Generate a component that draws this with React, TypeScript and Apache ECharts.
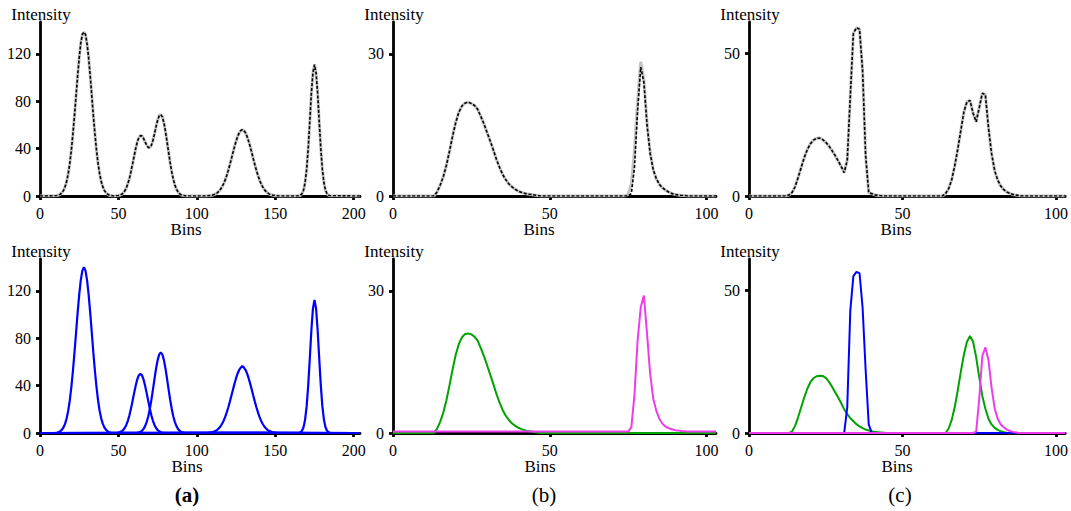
import React, { useEffect, useRef } from "react";
import * as echarts from "echarts";

// ---------- axes ----------
const X_MAX_A = 204;
const X_MAX_BC = 103;
const Y_MAX_A = 147;
const Y_MAX_B = 36.7;
const Y_MAX_C = 61;
const xTicksA = [0, 50, 100, 150, 200];
const xTicksBC = [0, 50, 100];
const yTicksA = [0, 40, 80, 120];
const yTicksB = [0, 30];
const yTicksC = [0, 50];
const panelLabels = ["(a)", "(b)", "(c)"];

// ---------- panel (a) ----------
// fitted / observed total, bins 10..185
const fitA_start = 10;
const fitA = [
  0.2, 0.4, 0.8, 1.6, 2.8, 4.8, 7.9, 12.4, 18.9, 27.7, 38.9, 52.6, 68.1, 84.9, 101.7, 116.9, 129.2, 136.5, 138.5, 136.5,
  128.5, 116.9, 101.7, 84.9, 68.1, 52.6, 38.9, 27.7, 18.9, 12.4, 7.9, 4.8, 2.8, 1.6, 0.8, 0.4, 0.2, 0, 0,
  0.2, 0.4, 0.8, 1.4, 2.5, 4.2, 6.8, 10.3, 14.9, 20.6, 27.0, 33.7, 40.0, 45.6, 49.3, 51.0, 50.7, 48.7, 45.8, 42.9,
  41.0, 40.9, 42.8, 47.0, 52.6, 58.7, 64.1, 67.8, 68.8, 66.8, 61.8, 54.5, 45.8, 36.7, 27.9, 20.3, 14.0, 9.2, 5.8, 3.4,
  1.9, 1.0, 0.5, 0.3,
  0, 0, 0, 0, 0, 0, 0, 0, 0, 0, 0, 0, 0, 0,
  0.2, 0.3, 0.5, 0.8, 1.2, 1.8, 2.7, 3.9, 5.5, 7.6, 10.2, 13.4, 17.2, 21.5, 26.3, 31.4, 36.6, 41.7, 46.3, 50.3,
  53.4, 55.3, 56, 55.3, 53.4, 50.3, 46.3, 41.7, 36.6, 31.4, 26.3, 21.5, 17.2, 13.4, 10.2, 7.6, 5.5, 3.9, 2.7, 1.8,
  1.2, 0.8, 0.5, 0.3, 0.2,
  0, 0, 0, 0, 0, 0, 0, 0, 0, 0, 0, 0, 0,
  0.2, 0.6, 1.9, 4.9, 11.3, 22.7, 40.4, 63.1, 86.8, 104, 111, 104, 86.8, 63.1, 40.4, 22.7, 11.3, 4.9, 1.9, 0.6, 0.2,
];
// components (blue)
const compA1_start = 10;
const compA1 = [
  0.2, 0.4, 0.8, 1.6, 2.8, 4.8, 7.9, 12.4, 18.9, 27.7, 38.9, 52.6, 68.1, 84.9, 101.7, 116.9, 129.2, 137.2, 140, 137.2,
  129.2, 116.9, 101.7, 84.9, 68.1, 52.6, 38.9, 27.7, 18.9, 12.4, 7.9, 4.8, 2.8, 1.6, 0.8, 0.4, 0.2,
];
const compA2_start = 49;
const compA2 = [
  0.2, 0.4, 0.8, 1.4, 2.5, 4.2, 6.8, 10.3, 14.9, 20.6, 27.0, 33.7, 40.0, 45.3, 48.8, 50, 48.8, 45.3, 40.0, 33.7,
  27.0, 20.6, 14.9, 10.3, 6.8, 4.2, 2.5, 1.4, 0.8, 0.4, 0.2,
];
const compA3_start = 62;
const compA3 = [
  0.3, 0.5, 1.0, 1.9, 3.4, 5.8, 9.2, 14.0, 20.3, 27.9, 36.7, 45.8, 54.5, 61.6, 66.4, 68, 66.4, 61.6, 54.5, 45.8,
  36.7, 27.9, 20.3, 14.0, 9.2, 5.8, 3.4, 1.9, 1.0, 0.5, 0.3,
];
const compA4_start = 107;
const compA4 = [
  0.2, 0.3, 0.5, 0.8, 1.2, 1.8, 2.7, 3.9, 5.5, 7.6, 10.2, 13.4, 17.2, 21.5, 26.3, 31.4, 36.6, 41.7, 46.3, 50.3,
  53.4, 55.3, 56.5, 55.3, 53.4, 50.3, 46.3, 41.7, 36.6, 31.4, 26.3, 21.5, 17.2, 13.4, 10.2, 7.6, 5.5, 3.9, 2.7, 1.8,
  1.2, 0.8, 0.5, 0.3, 0.2,
];
const compA5_start = 165;
const compA5 = [
  0.2, 0.6, 1.9, 4.9, 11.3, 22.7, 40.4, 63.1, 86.8, 105.1, 112.5, 105.1, 86.8, 63.1, 40.4, 22.7, 11.3, 4.9, 1.9, 0.6,
  0.2,
];

// ---------- panel (b) ----------
const fitB1_start = 13;
const fitB1 = [
  0, 0.8, 2.2, 4.0, 6.4, 9.4, 12.6, 15.5, 17.7, 19.0, 19.6, 19.8, 19.5, 19.1, 18.3, 16.8, 15.2, 13.4, 11.6, 9.7,
  7.7, 6.0, 4.5, 3.4, 2.5, 1.9, 1.4, 1.0, 0.75, 0.55, 0.4, 0.3, 0.2, 0.1, 0,
];
const fitB2_start = 75;
const fitB2 = [0, 0.5, 6, 18, 27.2, 24, 15, 9, 5.5, 3.6, 2.4, 1.7, 1.2, 0.8, 0.5, 0.3, 0.2, 0.1, 0.1, 0];
const obsB2_start = 74;
const obsB2 = [0, 0.4, 2.5, 9.5, 20, 28.3, 24.5, 15.5, 9.2, 5.5, 3.6, 2.4, 1.7, 1.2, 0.8, 0.5, 0.3, 0.2, 0.1, 0.1, 0];
const greenB_start = 13;
const greenB = [
  0, 0.8, 2.3, 4.2, 6.8, 10, 13.4, 16.5, 18.8, 20.2, 20.9, 21.0, 20.8, 20.3, 19.5, 17.9, 16.2, 14.3, 12.3, 10.3,
  8.2, 6.4, 4.8, 3.6, 2.7, 2.0, 1.5, 1.1, 0.8, 0.6, 0.4, 0.3, 0.2, 0.1, 0,
];
const magentaB_start = 75;
const magentaB = [0.3, 1.2, 8, 19.5, 26.5, 29, 21, 12.5, 7.2, 4.6, 2.9, 1.9, 1.3, 1.0, 0.8, 0.6, 0.5, 0.4, 0.35, 0.3];
const magentaB_base = 0.3;

// ---------- panel (c) ----------
const fitC1_start = 12;
const fitC1 = [
  0, 0.3, 1.2, 3.2, 6.5, 10, 13.5, 16.3, 18.3, 19.6, 20.2, 20.3, 19.8, 18.8, 17.6, 16.0, 14.3, 12.4, 10.4, 8.2,
  12.5, 35, 57, 59, 58.5, 44, 14, 1.2, 0.8, 0.4, 0.2, 0.1, 0,
];
const fitC2_start = 63;
const fitC2 = [
  0, 0.8, 2.5, 5.6, 10.5, 16.5, 23, 29.5, 33, 33.5, 29, 26, 31, 36, 35.5, 24, 15, 9, 5.6, 3.5,
  2.2, 1.4, 0.9, 0.5, 0.3, 0.1, 0,
];
const greenC1_start = 13;
const greenC1 = [
  0, 0.5, 2.5, 5.5, 9, 12.5, 15.5, 17.8, 19.2, 19.9, 20.1, 20.0, 19.3, 18.0, 16.3, 14.4, 12.5, 10.5, 8.3, 6.6,
  5.2, 4.1, 3.1, 2.3, 1.7, 1.2, 0.9, 0.6, 0.4, 0.3, 0.2, 0.1, 0,
];
const greenC2_start = 64;
const greenC2 = [0, 1.5, 4.5, 9, 15, 21.5, 27.5, 32, 34, 32, 26.5, 19.5, 13, 8.5, 5, 3, 1.8, 1.1, 0.6, 0.3, 0.1, 0];
const blueC_start = 31;
const blueC = [0, 9, 43, 55, 56.5, 56, 44, 22, 3, 0];
const magentaC_start = 73;
const magentaC = [0, 0.5, 12, 27, 30, 25.6, 16, 8.8, 5, 3, 2, 1.2, 0.7, 0.4, 0.2, 0];

// ---------- styles ----------
const FONT = "Liberation Serif";
const GRAY = "#c2c2c2";
const BLUE = "#0000ff";
const GREEN = "#00a300";
const MAGENTA = "#ec3cec";
const DASH = [3, 1.8];

type Seg = [number, number[]];
function curve(segs: Seg[], xMax: number, base = 0): number[][] {
  const pts: number[][] = [[0, base]];
  segs.forEach(([start, vals]) => vals.forEach((v, i) => pts.push([start + i, v])));
  pts.push([xMax, base]);
  return pts;
}

function axisCommon(max: number, ticks: number[]) {
  return {
    type: "value",
    min: 0,
    max,
    axisLine: { show: true, onZero: false, lineStyle: { color: "#000", width: 2.8 } },
    axisTick: { show: true, length: 4, customValues: ticks, lineStyle: { color: "#000", width: 2.8 } },
    axisLabel: { customValues: ticks, color: "#000", fontFamily: FONT, fontSize: 16, margin: 9 },
    splitLine: { show: false },
  };
}

function line(data: number[][], color: string, width: number, dash?: number[], z = 2) {
  return {
    type: "line",
    data,
    showSymbol: false,
    symbol: "none",
    z,
    lineStyle: { color, width, type: dash ? dash : "solid" },
  };
}

function txt(text: string, x: number, y: number, size: number, bold = false) {
  const style: any = { text, fill: "#000", fontFamily: FONT, fontSize: size, align: "center", verticalAlign: "middle" };
  if (bold) style.fontWeight = "bold";
  return { type: "text", x, y, style };
}

function buildPanels(): any[] {
  const fitAData = curve([[fitA_start, fitA]], X_MAX_A);
  const fitBData = curve([[fitB1_start, fitB1], [fitB2_start, fitB2]], X_MAX_BC);
  const obsBData = curve([[fitB1_start, fitB1], [obsB2_start, obsB2]], X_MAX_BC);
  const fitCData = curve([[fitC1_start, fitC1], [fitC2_start, fitC2]], X_MAX_BC);
  return [
    {
      grid: { left: 40, top: 22, width: 320, height: 174 },
      x: axisCommon(X_MAX_A, xTicksA),
      y: axisCommon(Y_MAX_A, yTicksA),
      series: [line(fitAData, GRAY, 3), line(fitAData, "#000", 1.6, DASH, 3)],
      texts: [txt("Intensity", 41, 14, 17), txt("Bins", 186, 229, 17)],
    },
    {
      grid: { left: 393, top: 22, width: 323, height: 174 },
      x: axisCommon(X_MAX_BC, xTicksBC),
      y: axisCommon(Y_MAX_B, yTicksB),
      series: [line(obsBData, GRAY, 3), line(fitBData, "#000", 1.6, DASH, 3)],
      texts: [txt("Intensity", 394, 14, 17), txt("Bins", 539, 229, 17)],
    },
    {
      grid: { left: 749, top: 22, width: 320, height: 174 },
      x: axisCommon(X_MAX_BC, xTicksBC),
      y: axisCommon(Y_MAX_C, yTicksC),
      series: [line(fitCData, GRAY, 3), line(fitCData, "#000", 1.6, DASH, 3)],
      texts: [txt("Intensity", 750, 14, 17), txt("Bins", 896, 229, 17)],
    },
    {
      grid: { left: 40, top: 259, width: 320, height: 174 },
      x: axisCommon(X_MAX_A, xTicksA),
      y: axisCommon(Y_MAX_A, yTicksA),
      series: [
        line(curve([[compA1_start, compA1]], X_MAX_A), BLUE, 2.2),
        line(curve([[compA2_start, compA2]], X_MAX_A), BLUE, 2.2),
        line(curve([[compA3_start, compA3]], X_MAX_A), BLUE, 2.2),
        line(curve([[compA4_start, compA4]], X_MAX_A), BLUE, 2.2),
        line(curve([[compA5_start, compA5]], X_MAX_A), BLUE, 2.2),
      ],
      texts: [txt("Intensity", 41, 251, 17), txt("Bins", 187, 466, 17), txt(panelLabels[0], 187, 495, 21, true)],
    },
    {
      grid: { left: 393, top: 259, width: 323, height: 174 },
      x: axisCommon(X_MAX_BC, xTicksBC),
      y: axisCommon(Y_MAX_B, yTicksB),
      series: [
        line(curve([[greenB_start, greenB]], X_MAX_BC), GREEN, 2),
        line(curve([[magentaB_start, magentaB]], X_MAX_BC, magentaB_base), MAGENTA, 2, undefined, 3),
      ],
      texts: [txt("Intensity", 394, 251, 17), txt("Bins", 540, 466, 17), txt(panelLabels[1], 544, 495, 21)],
    },
    {
      grid: { left: 749, top: 259, width: 320, height: 174 },
      x: axisCommon(X_MAX_BC, xTicksBC),
      y: axisCommon(Y_MAX_C, yTicksC),
      series: [
        line(curve([[greenC1_start, greenC1], [greenC2_start, greenC2]], X_MAX_BC), GREEN, 2),
        line(curve([[blueC_start, blueC]], X_MAX_BC), BLUE, 2, undefined, 3),
        line(curve([[magentaC_start, magentaC]], X_MAX_BC), MAGENTA, 2, undefined, 4),
      ],
      texts: [txt("Intensity", 750, 251, 17), txt("Bins", 897, 466, 17), txt(panelLabels[2], 900, 495, 21)],
    },
  ];
}

export default function App() {
  const wrap = useRef<HTMLDivElement>(null);
  useEffect(() => {
    document.body.style.margin = "0";
    const host = wrap.current;
    if (!host) return;
    const panels = buildPanels();
    const charts: echarts.ECharts[] = [];
    panels.forEach((p) => {
      const div = document.createElement("div");
      div.style.position = "absolute";
      div.style.left = "0px";
      div.style.top = "0px";
      div.style.width = "1071px";
      div.style.height = "511px";
      host.appendChild(div);
      const chart = echarts.init(div, null, { renderer: "svg" });
      chart.setOption({
        animation: false,
        grid: [p.grid],
        xAxis: [p.x],
        yAxis: [p.y],
        series: p.series,
        graphic: p.texts,
      });
      charts.push(chart);
    });
    return () => {
      charts.forEach((c) => c.dispose());
      while (host.firstChild) host.removeChild(host.firstChild);
    };
  }, []);
  return <div ref={wrap} style={{ position: "relative", width: 1071, height: 511, background: "#fff" }} />;
}
